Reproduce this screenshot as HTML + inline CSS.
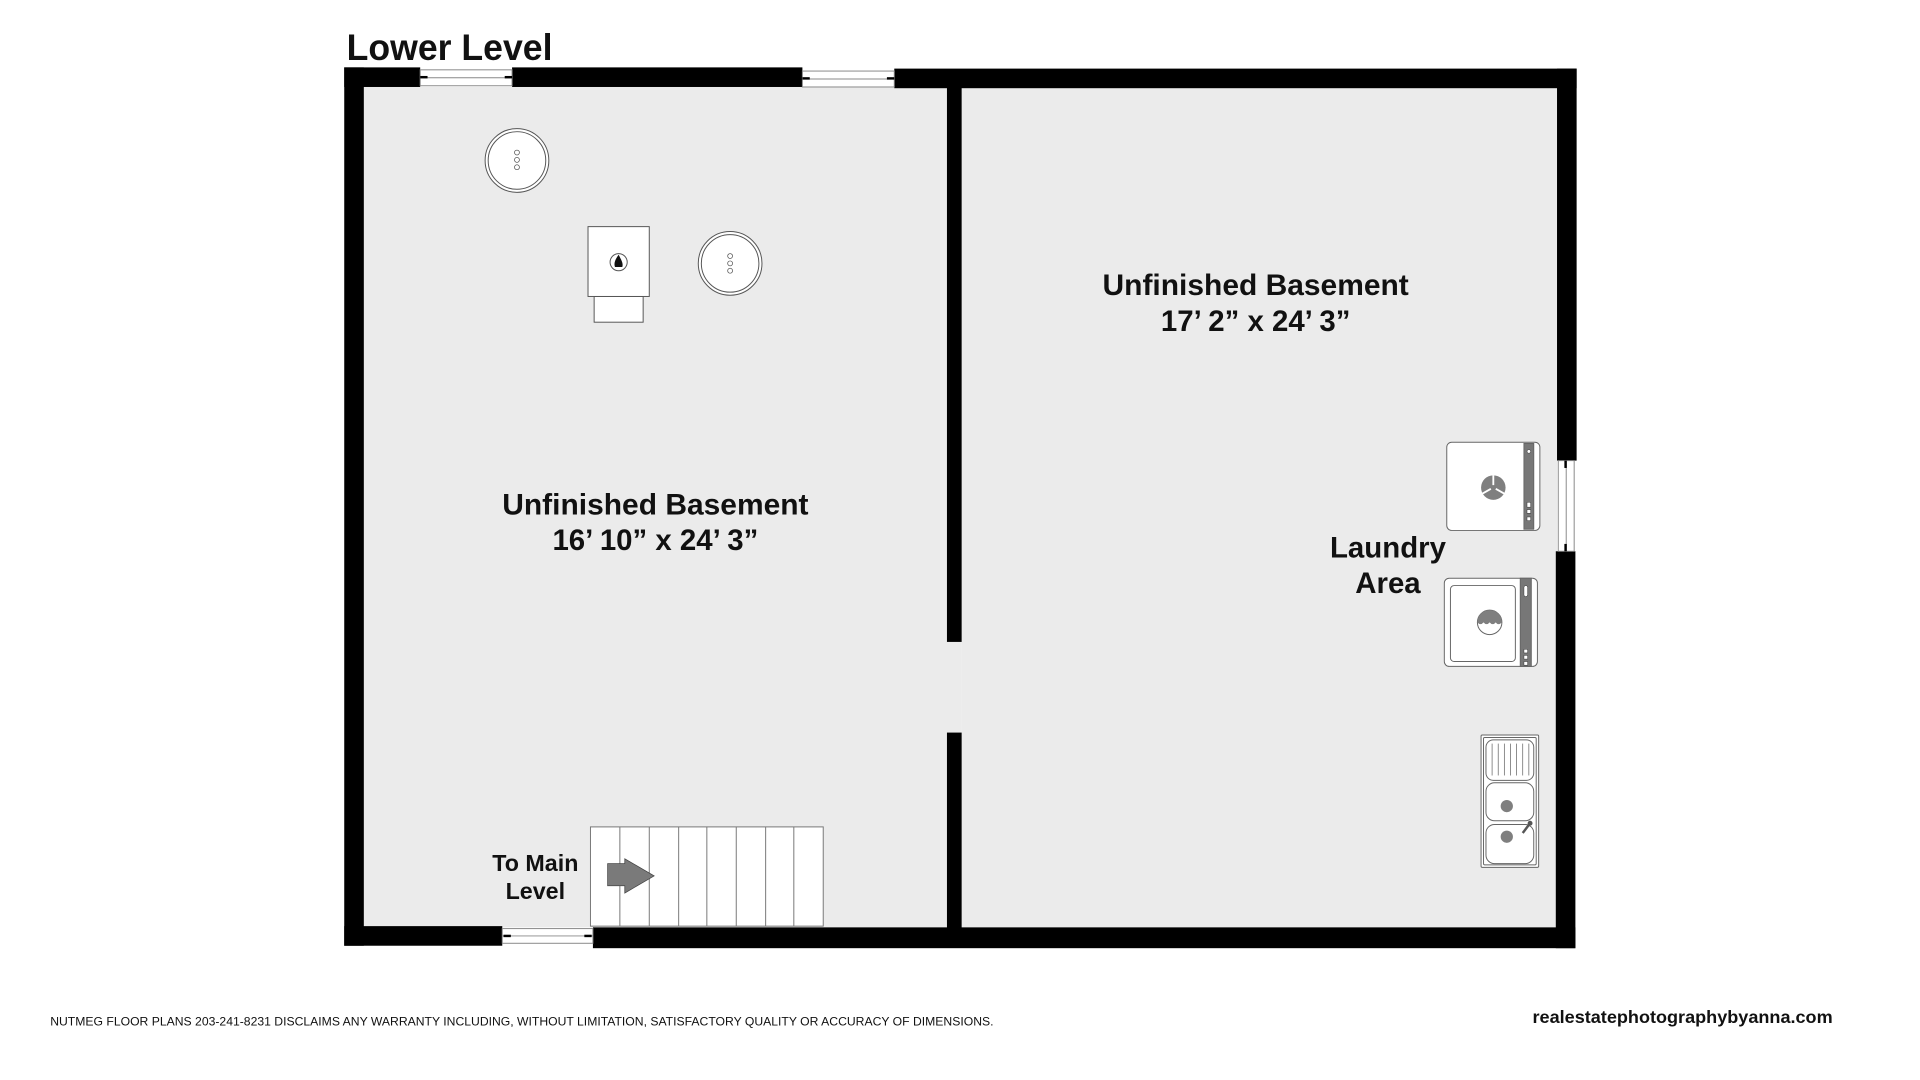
<!DOCTYPE html>
<html><head><meta charset="utf-8"><style>
html,body{margin:0;padding:0;background:#fff;}
svg{display:block;}
text{font-family:"Liberation Sans",Arial,sans-serif;font-weight:bold;fill:#111;}
</style></head><body>
<svg width="1920" height="1080" viewBox="0 0 1567.3 881.6" xmlns="http://www.w3.org/2000/svg">
<rect x="0" y="0" width="1567.3" height="881.6" fill="#fff"/>
<!-- floors -->
<rect x="297" y="71" width="476" height="686" fill="#ebebeb"/>
<rect x="785" y="72" width="486" height="685" fill="#ebebeb"/>
<rect x="773" y="524" width="12" height="74" fill="#ebebeb"/>
<!-- walls -->
<g fill="#000">
<rect x="281" y="55" width="16" height="717"/>
<rect x="281" y="55" width="62" height="16"/>
<rect x="418" y="55" width="237" height="16"/>
<rect x="730" y="56" width="557" height="16"/>
<rect x="773" y="71" width="12" height="453"/>
<rect x="773" y="598" width="12" height="175"/>
<rect x="1271" y="56" width="16" height="320"/>
<rect x="1270" y="450" width="16" height="324"/>
<rect x="281" y="756" width="129" height="16"/>
<rect x="484" y="757" width="802" height="17"/>
</g>
<!-- windows -->
<g fill="#fff" stroke="#888" stroke-width="0.8">
<rect x="343" y="57" width="75" height="13"/>
<line x1="343" y1="63.5" x2="418" y2="63.5"/>
<rect x="655" y="58" width="75" height="13"/>
<line x1="655" y1="64.5" x2="730" y2="64.5"/>
<rect x="410" y="758" width="74" height="12"/>
<line x1="410" y1="764" x2="484" y2="764"/>
<rect x="1272" y="376" width="13" height="74"/>
<line x1="1278.5" y1="376" x2="1278.5" y2="450"/>
</g>
<g fill="#000">
<rect x="343" y="62" width="6" height="2"/><rect x="412" y="62" width="6" height="2"/>
<rect x="655" y="63" width="6" height="2"/><rect x="724" y="63" width="6" height="2"/>
<rect x="411" y="763" width="6" height="2"/><rect x="477" y="763" width="6" height="2"/>
<rect x="1277" y="376" width="2" height="6"/><rect x="1277" y="444" width="2" height="6"/>
</g>
<!-- water heaters -->
<g stroke="#555" fill="#fff">
<circle cx="422" cy="131" r="26" stroke-width="0.8"/>
<circle cx="422" cy="131" r="23.5" stroke-width="0.8"/>
<circle cx="596" cy="215" r="26" stroke-width="0.8"/>
<circle cx="596" cy="215" r="23.5" stroke-width="0.8"/>
<g fill="none" stroke-width="0.6">
<circle cx="422" cy="124.5" r="2"/><circle cx="422" cy="130.5" r="2"/><circle cx="422" cy="136.5" r="2"/>
<circle cx="596" cy="209" r="2"/><circle cx="596" cy="215" r="2"/><circle cx="596" cy="221" r="2"/>
</g>
</g>
<!-- furnace -->
<g stroke="#555" fill="#fff" stroke-width="0.8">
<rect x="485" y="242" width="40" height="21"/>
<rect x="480" y="185" width="50" height="57"/>
<circle cx="505" cy="214" r="7"/>
</g>
<path d="M505 208 C502 212 501 215 502 218 L508 218 C509 215 507 212 505 208 Z" fill="#111"/>
<!-- stairs -->
<g stroke="#777" fill="#fff" stroke-width="0.8">
<rect x="482" y="675" width="190" height="81"/>
<line x1="506" y1="675" x2="506" y2="756"/><line x1="530" y1="675" x2="530" y2="756"/>
<line x1="554" y1="675" x2="554" y2="756"/><line x1="577" y1="675" x2="577" y2="756"/>
<line x1="601" y1="675" x2="601" y2="756"/><line x1="625" y1="675" x2="625" y2="756"/>
<line x1="648" y1="675" x2="648" y2="756"/>
</g>
<path d="M496 705 L510 705 L510 701 L534 715 L510 729 L510 723 L496 723 Z" fill="#7a7a7a" stroke="#444" stroke-width="0.6"/>
<!-- dryer -->
<g stroke="#666" stroke-width="0.8">
<rect x="1181" y="361" width="76" height="72" rx="4" fill="#fff"/>
<rect x="1244" y="362" width="8" height="70" fill="#777"/>
</g>
<circle cx="1219" cy="398" r="10" fill="#7f7f7f"/>
<g stroke="#fff" stroke-width="1.5"><line x1="1219" y1="388" x2="1219" y2="396"/><line x1="1210" y1="403" x2="1217" y2="399"/><line x1="1228" y1="403" x2="1221" y2="399"/></g>
<g fill="#fff" stroke="#333" stroke-width="0.4"><rect x="1246.5" y="367" width="3" height="3" rx="1.5"/><rect x="1246.5" y="410" width="3" height="4"/><rect x="1246.5" y="416" width="3" height="3"/><rect x="1246.5" y="422" width="3" height="3"/></g>
<!-- washer -->
<g stroke="#666" stroke-width="0.8">
<rect x="1179" y="472" width="76" height="72" rx="4" fill="#fff"/>
<rect x="1184" y="478" width="53" height="62" rx="3" fill="#fff"/>
<rect x="1241" y="472" width="9" height="72" fill="#777"/>
</g>
<circle cx="1216" cy="508" r="10" fill="#fff" stroke="#666" stroke-width="0.8"/>
<path d="M1206 508 A10 10 0 0 1 1226 508 Q1223 511 1221 508 Q1218.5 511 1216 508 Q1213.5 511 1211 508 Q1208.5 511 1206 508 Z" fill="#7f7f7f"/>
<g fill="#fff" stroke="#333" stroke-width="0.4"><rect x="1244" y="478" width="3" height="9" rx="1.5"/><rect x="1244" y="530" width="3" height="3"/><rect x="1244" y="535" width="3" height="3"/><rect x="1244" y="540" width="3" height="3"/></g>
<!-- sink -->
<g stroke="#666" stroke-width="0.8" fill="#fff">
<rect x="1209" y="600" width="47" height="108" rx="1"/>
<rect x="1211" y="602" width="43" height="104" rx="1" fill="none"/>
<rect x="1213" y="604" width="39" height="33" rx="6"/>
<rect x="1213" y="639" width="39" height="31" rx="7"/>
<rect x="1213" y="673" width="39" height="32" rx="7"/>
<g stroke-width="0.6"><line x1="1218" y1="607" x2="1218" y2="633"/><line x1="1223" y1="607" x2="1223" y2="633"/><line x1="1228" y1="607" x2="1228" y2="633"/><line x1="1233" y1="607" x2="1233" y2="633"/><line x1="1238" y1="607" x2="1238" y2="633"/><line x1="1243" y1="607" x2="1243" y2="633"/><line x1="1248" y1="607" x2="1248" y2="633"/></g>
</g>
<circle cx="1230" cy="658" r="5" fill="#7f7f7f"/>
<circle cx="1230" cy="683" r="5" fill="#7f7f7f"/>
<line x1="1243" y1="680" x2="1249" y2="672" stroke="#555" stroke-width="2"/>
<circle cx="1249" cy="672" r="2" fill="#555"/>
<!-- labels -->
<text x="283" y="49" font-size="30" textLength="168" lengthAdjust="spacingAndGlyphs">Lower Level</text>
<g font-size="24" text-anchor="middle">
<text x="535" y="420" textLength="250" lengthAdjust="spacingAndGlyphs">Unfinished Basement</text>
<text x="535" y="449">16’ 10” x 24’ 3”</text>
<text x="1025" y="241" textLength="250" lengthAdjust="spacingAndGlyphs">Unfinished Basement</text>
<text x="1025" y="270">17’ 2” x 24’ 3”</text>
<text x="1133" y="455">Laundry</text>
<text x="1133" y="484">Area</text>
</g>
<g font-size="19" text-anchor="middle">
<text x="437" y="711">To Main</text>
<text x="437" y="734">Level</text>
</g>
<text x="41" y="837" font-size="10" font-weight="normal" style="font-weight:normal" textLength="770" lengthAdjust="spacingAndGlyphs">NUTMEG FLOOR PLANS 203-241-8231 DISCLAIMS ANY WARRANTY INCLUDING, WITHOUT LIMITATION, SATISFACTORY QUALITY OR ACCURACY OF DIMENSIONS.</text>
<text x="1251" y="835" font-size="14" textLength="245" lengthAdjust="spacingAndGlyphs">realestatephotographybyanna.com</text>
</svg>
</body></html>
